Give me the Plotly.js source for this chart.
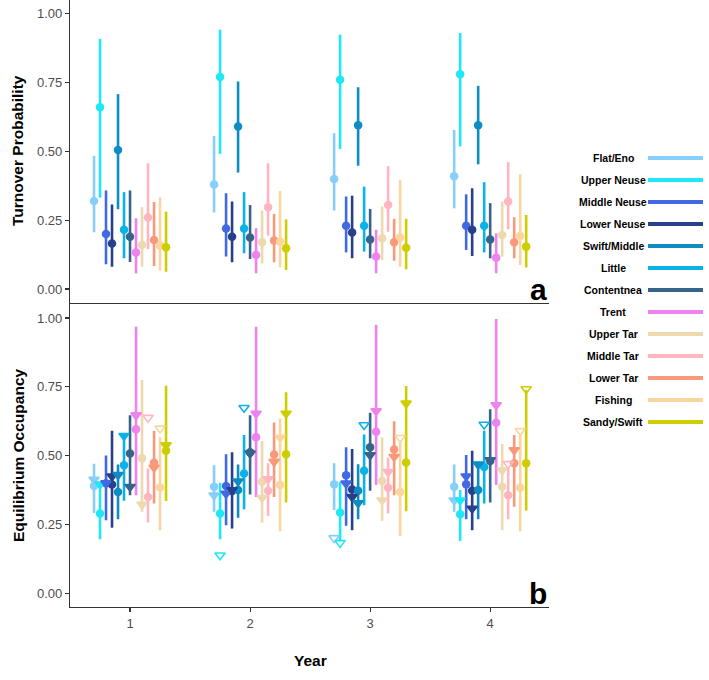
<!DOCTYPE html>
<html>
<head>
<meta charset="utf-8">
<script src="https://cdn.plot.ly/plotly-3.0.1.min.js"></script>
<style>
  html, body { margin: 0; padding: 0; background: #fff; }
  #chart { width: 709px; height: 680px; }
</style>
</head>
<body>
<div id="chart"></div>
<script>
// Sites, in plotting (dodge) order
const sites = ['Flat/Eno', 'Upper Neuse', 'Middle Neuse', 'Lower Neuse', 'Swift/Middle', 'Little',
  'Contentnea', 'Trent', 'Upper Tar', 'Middle Tar', 'Lower Tar', 'Fishing', 'Sandy/Swift'];
const years = [1, 2, 3, 4];
const yTicks = [0, 0.25, 0.5, 0.75, 1];
const yTickText = ['0.00', '0.25', '0.50', '0.75', '1.00'];

// Panel a: turnover probability, one row per site, columns = years 1..4
const turnoverMean = [
  [0.32, 0.38, 0.40, 0.41],
  [0.66, 0.77, 0.76, 0.78],
  [0.20, 0.22, 0.23, 0.23],
  [0.165, 0.19, 0.205, 0.215],
  [0.505, 0.59, 0.595, 0.595],
  [0.215, 0.22, 0.23, 0.23],
  [0.19, 0.187, 0.18, 0.18],
  [0.133, 0.124, 0.118, 0.114],
  [0.16, 0.17, 0.184, 0.196],
  [0.26, 0.297, 0.305, 0.318],
  [0.178, 0.176, 0.17, 0.17],
  [0.158, 0.172, 0.187, 0.193],
  [0.152, 0.148, 0.15, 0.154]
];
const turnoverLow = [
  [0.206, 0.278, 0.285, 0.293],
  [0.332, 0.491, 0.509, 0.518],
  [0.09, 0.118, 0.133, 0.142],
  [0.081, 0.097, 0.112, 0.12],
  [0.29, 0.423, 0.448, 0.453],
  [0.112, 0.13, 0.136, 0.133],
  [0.098, 0.109, 0.112, 0.112],
  [0.057, 0.057, 0.057, 0.057],
  [0.081, 0.093, 0.105, 0.118],
  [0.145, 0.194, 0.208, 0.217],
  [0.084, 0.097, 0.103, 0.112],
  [0.067, 0.079, 0.081, 0.087],
  [0.063, 0.069, 0.072, 0.078]
];
const turnoverHigh = [
  [0.484, 0.556, 0.566, 0.578],
  [0.909, 0.942, 0.924, 0.93],
  [0.358, 0.348, 0.336, 0.344],
  [0.307, 0.318, 0.339, 0.366],
  [0.708, 0.754, 0.733, 0.738],
  [0.352, 0.352, 0.372, 0.388],
  [0.358, 0.305, 0.291, 0.312],
  [0.257, 0.221, 0.215, 0.202],
  [0.297, 0.285, 0.299, 0.318],
  [0.457, 0.457, 0.447, 0.461],
  [0.316, 0.273, 0.255, 0.261],
  [0.333, 0.356, 0.396, 0.417],
  [0.281, 0.253, 0.255, 0.269]
];

// Panel b: equilibrium occupancy estimate with interval, plus naive occupancy
const occMean = [
  [0.39, 0.387, 0.396, 0.387],
  [0.29, 0.29, 0.293, 0.287],
  [0.40, 0.39, 0.429, 0.396],
  [0.395, 0.371, 0.377, 0.372],
  [0.368, 0.375, 0.372, 0.375],
  [0.465, 0.435, 0.445, 0.459],
  [0.508, 0.512, 0.53, 0.48],
  [0.596, 0.567, 0.587, 0.619],
  [0.49, 0.405, 0.408, 0.387],
  [0.35, 0.372, 0.383, 0.356],
  [0.474, 0.504, 0.522, 0.472],
  [0.384, 0.393, 0.368, 0.383],
  [0.518, 0.505, 0.475, 0.472]
];
const occLow = [
  [0.292, 0.296, 0.302, 0.296],
  [0.196, 0.196, 0.189, 0.19],
  [0.265, 0.247, 0.245, 0.269],
  [0.238, 0.235, 0.229, 0.229],
  [0.269, 0.274, 0.269, 0.269],
  [0.336, 0.305, 0.32, 0.326],
  [0.356, 0.359, 0.372, 0.33],
  [0.356, 0.35, 0.393, 0.393],
  [0.296, 0.257, 0.263, 0.229],
  [0.257, 0.281, 0.29, 0.269],
  [0.326, 0.35, 0.356, 0.314],
  [0.229, 0.225, 0.208, 0.225],
  [0.335, 0.33, 0.298, 0.3]
];
const occHigh = [
  [0.47, 0.465, 0.472, 0.468],
  [0.405, 0.401, 0.405, 0.375],
  [0.50, 0.505, 0.53, 0.502],
  [0.59, 0.512, 0.524, 0.518],
  [0.468, 0.468, 0.469, 0.478],
  [0.58, 0.575, 0.577, 0.59],
  [0.647, 0.647, 0.656, 0.668],
  [0.968, 0.968, 0.975, 0.996],
  [0.775, 0.553, 0.566, 0.542],
  [0.453, 0.472, 0.492, 0.455],
  [0.589, 0.62, 0.625, 0.575],
  [0.568, 0.635, 0.555, 0.575],
  [0.754, 0.73, 0.753, 0.738]
];
const naiveOcc = [
  [0.413, 0.356, 0.201, 0.338],
  [0.396, 0.138, 0.183, 0.338],
  [0.40, 0.362, 0.399, 0.425],
  [0.425, 0.375, 0.35, 0.308],
  [0.43, 0.407, 0.328, 0.468],
  [0.572, 0.674, 0.611, 0.613],
  [0.387, 0.508, 0.502, 0.484],
  [0.647, 0.653, 0.662, 0.684],
  [0.322, 0.347, 0.338, 0.447],
  [0.638, 0.415, 0.441, 0.47],
  [0.457, 0.478, 0.496, 0.52],
  [0.599, 0.566, 0.565, 0.59],
  [0.538, 0.653, 0.69, 0.742]
];

// One colour per site
const palette = ['#87CEFA', '#1EE8F4', '#4169E1', '#27408B', '#0E8CC4', '#0BB2EA',
  '#36648B', '#EE82EE', '#EED8AE', '#FFB6C1', '#F7997A', '#FCD4A0', '#CDCD00'];

const FONT = 'Liberation Sans, Arial, Helvetica, sans-serif';
const DODGE = 0.05;           // horizontal spacing between sites within a year
const center = (sites.length - 1) / 2;

const traces = [];
function xs(i) { return years.map(y => y + (i - center) * DODGE); }
function sub(a, b) { return a.map((v, k) => v - b[k]); }

sites.forEach((s, i) => {
  const col = palette[i];
  // panel a: point + interval
  traces.push({
    type: 'scatter', mode: 'markers', xaxis: 'x', yaxis: 'y', name: s, showlegend: false,
    x: xs(i), y: turnoverMean[i],
    marker: { color: col, size: 8.5 },
    error_y: { type: 'data', symmetric: false, array: sub(turnoverHigh[i], turnoverMean[i]),
      arrayminus: sub(turnoverMean[i], turnoverLow[i]), width: 0, thickness: 2.6, color: col }
  });
  // panel b: point + interval
  traces.push({
    type: 'scatter', mode: 'markers', xaxis: 'x2', yaxis: 'y2', name: s, showlegend: false,
    x: xs(i), y: occMean[i],
    marker: { color: col, size: 8.5 },
    error_y: { type: 'data', symmetric: false, array: sub(occHigh[i], occMean[i]),
      arrayminus: sub(occMean[i], occLow[i]), width: 0, thickness: 2.6, color: col }
  });
});

// panel b: naive occupancy triangles; hollow when outside the estimate's interval
sites.forEach((s, i) => {
  const col = palette[i];
  const sym = naiveOcc[i].map((v, k) =>
    (v > occHigh[i][k] || v < occLow[i][k]) ? 'triangle-down-open' : 'triangle-down');
  traces.push({
    type: 'scatter', mode: 'markers', xaxis: 'x2', yaxis: 'y2', name: s, showlegend: false,
    x: xs(i), y: naiveOcc[i],
    marker: { color: col, size: 9, symbol: sym, line: { color: col, width: 1.6 } }
  });
});

const W = 709, H = 680;
const M = { l: 70, r: 160, t: 0, b: 73 };
const plotW = W - M.l - M.r, plotH = H - M.t - M.b;
const px2x = p => (p - M.l) / plotW;           // page pixel -> paper x
const px2y = p => (plotH - (p - M.t)) / plotH; // page pixel -> paper y

const axisY = {
  range: [-0.05, 1.05], tickvals: yTicks, ticktext: yTickText,
  showgrid: false, zeroline: false, showline: true, linecolor: '#333', linewidth: 1.1,
  ticks: 'outside', ticklen: 4, tickcolor: '#333', tickwidth: 1.1,
  tickfont: { family: FONT, size: 13, color: '#4d4d4d' }
};
const axisX = {
  range: [0.5, 4.49], tickvals: years, ticktext: years.map(String),
  showgrid: false, zeroline: false, showline: true, linecolor: '#333', linewidth: 1.1
};

const titleFont = { family: FONT, size: 15.5, color: '#000' };
const annotations = [
  { text: '<b>Turnover Probability</b>', xref: 'paper', yref: 'paper', x: px2x(18), y: px2y(151),
    xanchor: 'center', yanchor: 'middle', textangle: -90, showarrow: false, font: titleFont },
  { text: '<b>Equilibrium Occupancy</b>', xref: 'paper', yref: 'paper', x: px2x(18), y: px2y(456),
    xanchor: 'center', yanchor: 'middle', textangle: -90, showarrow: false, font: titleFont },
  { text: '<b>Year</b>', xref: 'paper', yref: 'paper', x: px2x(310), y: px2y(660),
    xanchor: 'center', yanchor: 'middle', showarrow: false, font: titleFont },
  { text: '<b>a</b>', xref: 'paper', yref: 'paper', x: 1, xanchor: 'right', y: px2y(303),
    yanchor: 'bottom', yshift: -5, showarrow: false, font: { family: FONT, size: 30, color: '#000' } },
  { text: '<b>b</b>', xref: 'paper', yref: 'paper', x: 1, xanchor: 'right', y: 0,
    yanchor: 'bottom', yshift: -5, showarrow: false, font: { family: FONT, size: 30, color: '#000' } }
];

// site key: label on the left, colour bar on the right
const shapes = [];
sites.forEach((s, i) => {
  const yp = 158 + 22 * i;
  annotations.push({ text: '<b>' + s + '</b>', xref: 'paper', yref: 'paper', x: px2x(613), y: px2y(yp),
    xanchor: 'center', yanchor: 'middle', showarrow: false, font: { family: FONT, size: 10.5, color: '#000' } });
  shapes.push({ type: 'line', xref: 'paper', yref: 'paper', x0: px2x(648), x1: px2x(703),
    y0: px2y(yp), y1: px2y(yp), line: { color: palette[i], width: 4 } });
});

const layout = {
  width: W, height: H, margin: M,
  paper_bgcolor: '#fff', plot_bgcolor: '#fff', showlegend: false,
  font: { family: FONT },
  xaxis: Object.assign({}, axisX, { domain: [0, 1], anchor: 'y', showticklabels: false, ticks: '' }),
  yaxis: Object.assign({}, axisY, { domain: [0.5012, 1], anchor: 'x' }),
  xaxis2: Object.assign({}, axisX, { domain: [0, 1], anchor: 'y2', ticks: 'outside', ticklen: 4,
    tickcolor: '#333', tickwidth: 1.1, tickfont: { family: FONT, size: 13, color: '#4d4d4d' } }),
  yaxis2: Object.assign({}, axisY, { domain: [0, 0.4988], anchor: 'x2' }),
  annotations: annotations,
  shapes: shapes
};

Plotly.newPlot('chart', traces, layout, { staticPlot: true, displayModeBar: false });
</script>
</body>
</html>
